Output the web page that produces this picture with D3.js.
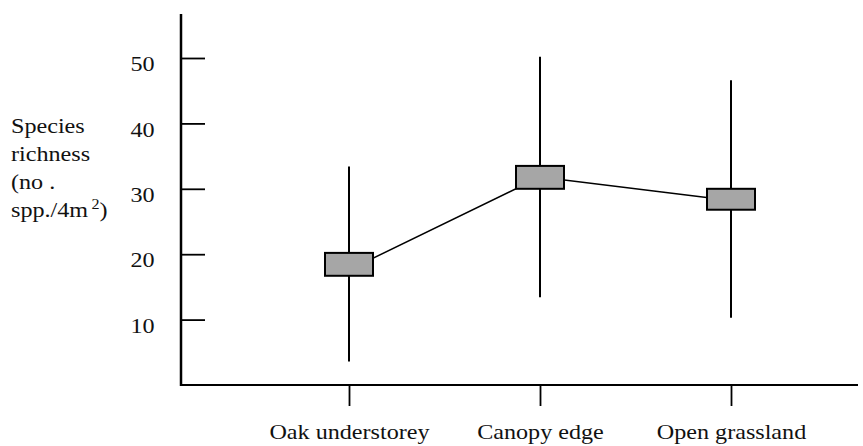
<!DOCTYPE html>
<html>
<head>
<meta charset="utf-8">
<script src="https://cdn.jsdelivr.net/npm/d3@7"></script>
<style>
  html, body { margin: 0; padding: 0; background: #fff; }
  svg text { font-family: "Liberation Serif", "Times New Roman", serif; fill: #111; }
</style>
</head>
<body>
<svg id="chart" width="863" height="446"></svg>
<script>
// ---- data ----
const categories = ["Oak understorey", "Canopy edge", "Open grassland"];
const means       = [17.6, 31.8, 28.2];
const boxLow      = [16.7, 30.0, 26.8];
const boxHigh     = [20.2, 33.5, 30.0];
const whiskerLow  = [3.6, 13.4, 10.3];
const whiskerHigh = [33.4, 50.2, 46.6];
const yTicks      = [10, 20, 30, 40, 50];
const yTitleLines = ["Species", "richness", "(no .", "spp./4m"];

// ---- layout ----
const svg = d3.select("#chart");
const axisX0 = 181, axisX1 = 858, axisTop = 14;
const stretch = 1.15;

const y = d3.scaleLinear().domain([0, 50]).range([385, 58]);
const x = d3.scalePoint().domain(categories).range([349, 731]);
const rows = categories.map((c, i) => ({
  c, mean: means[i], lo: boxLow[i], hi: boxHigh[i], wlo: whiskerLow[i], whi: whiskerHigh[i]
}));

// y axis line
svg.append("line")
  .attr("x1", axisX0).attr("x2", axisX0)
  .attr("y1", axisTop).attr("y2", y(0) + 1)
  .attr("stroke", "#000").attr("stroke-width", 2.5);

// x axis line
svg.append("line")
  .attr("x1", axisX0 - 1).attr("x2", axisX1)
  .attr("y1", y(0)).attr("y2", y(0))
  .attr("stroke", "#000").attr("stroke-width", 2.2);

// y ticks (pointing inward)
const yAx = svg.append("g").attr("transform", `translate(${axisX0},0)`)
  .call(d3.axisRight(y).tickValues(yTicks).tickSize(24).tickFormat(""));
yAx.select(".domain").remove();
yAx.selectAll("line").attr("stroke", "#000").attr("stroke-width", 1.8);

// y tick labels
const yLab = svg.append("g").attr("transform", `translate(${axisX0},0)`)
  .call(d3.axisLeft(y).tickValues(yTicks).tickSize(0).tickPadding(23).tickFormat(d3.format("d")));
yLab.select(".domain").remove();
yLab.selectAll("text")
  .attr("font-size", 21)
  .attr("dy", "0.6em")
  .attr("fill", "#111")
  .attr("transform", `scale(${stretch},1)`);

// x ticks (below axis)
const xAx = svg.append("g").attr("transform", `translate(0,${y(0)})`)
  .call(d3.axisBottom(x).tickSize(21).tickPadding(12).tickSizeOuter(0));
xAx.select(".domain").remove();
xAx.selectAll("line").attr("stroke", "#000").attr("stroke-width", 1.8);
xAx.selectAll("text")
  .attr("font-size", 21)
  .attr("fill", "#111")
  .attr("dy", "1.0em")
  .attr("transform", `scale(${stretch},1)`)
  .attr("x", 0);

// y axis title
const title = svg.append("text")
  .attr("transform", `translate(11,0) scale(${stretch},1)`)
  .attr("font-size", 21);
yTitleLines.forEach((t, i) => {
  title.append("tspan").attr("x", 0).attr("y", 133 + i * 28).text(t);
});
title.append("tspan").attr("dx", 3).attr("font-size", 14).attr("dy", -8).text("2");
title.append("tspan").attr("dy", 8).text(")");

// connecting line of means
svg.append("path")
  .datum(rows)
  .attr("d", d3.line().x(d => x(d.c)).y(d => y(d.mean)))
  .attr("fill", "none").attr("stroke", "#000").attr("stroke-width", 1.5);

// whiskers
svg.selectAll(".whisker").data(rows).join("line")
  .attr("class", "whisker")
  .attr("x1", d => x(d.c)).attr("x2", d => x(d.c))
  .attr("y1", d => y(d.whi)).attr("y2", d => y(d.wlo))
  .attr("stroke", "#000").attr("stroke-width", 2);

// boxes
const boxW = 48;
svg.selectAll(".box").data(rows).join("rect")
  .attr("class", "box")
  .attr("x", d => x(d.c) - boxW / 2)
  .attr("width", boxW)
  .attr("y", d => y(d.hi))
  .attr("height", d => y(d.lo) - y(d.hi))
  .attr("fill", "#a6a6a6")
  .attr("stroke", "#000").attr("stroke-width", 2);
</script>
</body>
</html>
